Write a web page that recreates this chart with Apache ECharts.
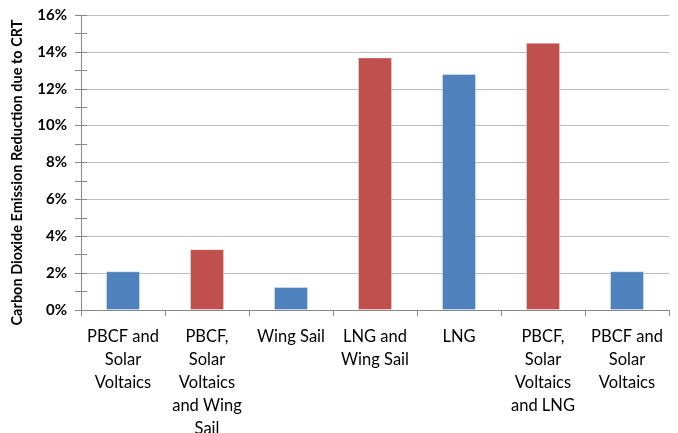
<!DOCTYPE html>
<html>
<head>
<meta charset="utf-8">
<script src="https://cdn.jsdelivr.net/npm/echarts@6/dist/echarts.min.js"></script>
<style>html,body{margin:0;padding:0;background:#fff;}#c{width:678px;height:433px;}</style>
</head>
<body>
<div id="c"></div>
<script>
var categories = [
  "PBCF and\nSolar\nVoltaics",
  "PBCF,\nSolar\nVoltaics\nand Wing\nSail",
  "Wing Sail",
  "LNG and\nWing Sail",
  "LNG",
  "PBCF,\nSolar\nVoltaics\nand LNG",
  "PBCF and\nSolar\nVoltaics"
];
var values = [2.1, 3.3, 1.25, 13.7, 12.8, 14.5, 2.1];
var barColors = ["#4F81BD", "#C0504D", "#4F81BD", "#C0504D", "#4F81BD", "#C0504D", "#4F81BD"];
var yTitle = "Carbon Dioxide Emission Reduction due to CRT";

var chart = echarts.init(document.getElementById('c'));
var font = "Lato, 'Open Sans', sans-serif";
chart.setOption({
  animation: false,
  grid: {left: 81, right: 9, top: 15, bottom: 123, outerBoundsMode: 'none', containLabel: false},
  xAxis: {
    type: 'category',
    data: categories,
    axisLine: {lineStyle: {color: '#888', width: 1}},
    axisTick: {show: true, alignWithLabel: false, length: 6, lineStyle: {color: '#888'}},
    axisLabel: {interval: 0, color: '#000', fontFamily: font, fontSize: 16.5, lineHeight: 23, margin: 15, verticalAlign: 'top'}
  },
  yAxis: [{
    type: 'value',
    min: 0, max: 16, interval: 2,
    name: yTitle,
    nameLocation: 'middle',
    nameGap: 56,
    nameTextStyle: {color: '#000', fontFamily: font, fontSize: 14.5, fontWeight: 'bold', padding: [0, 0, 0, -20]},
    axisLine: {show: true, lineStyle: {color: '#888'}},
    axisTick: {show: true, length: 6, lineStyle: {color: '#888'}},
    minorTick: {show: true, splitNumber: 2, length: 6, lineStyle: {color: '#888'}},
    splitLine: {show: true, lineStyle: {color: '#bdbdbd', width: 1}},
    axisLabel: {color: '#000', fontFamily: font, fontSize: 15, fontWeight: 'bold', margin: 14, formatter: function(v){return v + '%';}}
  }, {
    type: 'value',
    min: 0, max: 16, interval: 2,
    position: 'left',
    axisLine: {show: false},
    axisTick: {show: true, inside: true, length: 6, lineStyle: {color: '#888'}},
    minorTick: {show: true, splitNumber: 2, length: 6, lineStyle: {color: '#888'}},
    splitLine: {show: false},
    axisLabel: {show: false}
  }],
  series: [{
    type: 'bar',
    data: values.map(function(v, i){ return {value: v, itemStyle: {color: barColors[i]}}; }),
    barWidth: 34,
    itemStyle: {borderColor: 'rgba(255,255,255,0.35)', borderWidth: 1}
  }]
});
</script>
</body>
</html>
